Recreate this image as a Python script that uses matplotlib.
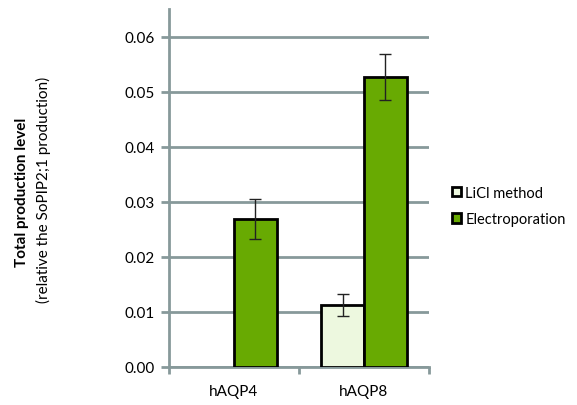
import matplotlib.pyplot as plt
from matplotlib.patches import Patch
import numpy as np

plt.rcParams['font.family'] = ['Lato', 'DejaVu Sans']

categories = ['hAQP4', 'hAQP8']
licl = [np.nan, 0.0113]
licl_err = [np.nan, 0.0020]
electro = [0.0269, 0.0527]
electro_err = [0.0036, 0.0042]
yticks = [0.00, 0.01, 0.02, 0.03, 0.04, 0.05, 0.06]

grid_col = '#87999a'
light = '#edf8df'
green = '#68aa02'

fig = plt.figure(figsize=(5.77, 4.06), dpi=100)
ax = fig.add_axes([169/577, 1-368/406, (429-169)/577, (368-10)/406])

x = np.arange(len(categories)) + 0.5
w = 0.33
ax.bar(x - w/2, licl, w, color=light, edgecolor='black', linewidth=2, zorder=3)
ax.bar(x + w/2, electro, w, color=green, edgecolor='black', linewidth=2, zorder=3)
ax.errorbar(x - w/2, licl, yerr=licl_err, fmt='none', ecolor='#222222',
            elinewidth=1, capsize=4, capthick=1, zorder=4)
ax.errorbar(x + w/2, electro, yerr=electro_err, fmt='none', ecolor='#222222',
            elinewidth=1, capsize=4, capthick=1, zorder=4)

ax.set_xlim(0, 2)
ax.set_ylim(0, 0.065)
ax.set_yticks(yticks)
ax.set_yticklabels(['%.2f' % v for v in yticks], fontsize=11)
ax.yaxis.grid(True, color=grid_col, linewidth=2, zorder=0)
ax.set_axisbelow(True)

ax.set_xticks([0, 1, 2])
ax.set_xticklabels([])
ax.set_xticks(x, minor=True)
ax.set_xticklabels(categories, minor=True, fontsize=11)
ax.tick_params(axis='x', which='major', length=5, width=2, color=grid_col)
ax.tick_params(axis='x', which='minor', length=0, pad=12)
ax.tick_params(axis='y', length=6, width=2, color=grid_col, pad=4)

for s in ['top', 'right']:
    ax.spines[s].set_visible(False)
for s in ['left', 'bottom']:
    ax.spines[s].set_color(grid_col)
    ax.spines[s].set_linewidth(2)

fig.text(22/577, 1-192/406, 'Total production level', rotation=90,
         fontweight='bold', fontsize=11, ha='center', va='center')
fig.text(43/577, 1-190/406, '(relative the SoPIP2;1 production)', rotation=90,
         fontsize=11, ha='center', va='center')

handles = [Patch(facecolor=light, edgecolor='black', linewidth=2, label='LiCl method'),
           Patch(facecolor=green, edgecolor='black', linewidth=2, label='Electroporation')]
fig.legend(handles=handles, loc='center left', bbox_to_anchor=(452/577, 1-207/406),
           frameon=False, fontsize=10.5, handlelength=0.6, handleheight=0.6,
           handletextpad=0.3, labelspacing=0.85, borderpad=0, borderaxespad=0)

plt.savefig('out.png')
